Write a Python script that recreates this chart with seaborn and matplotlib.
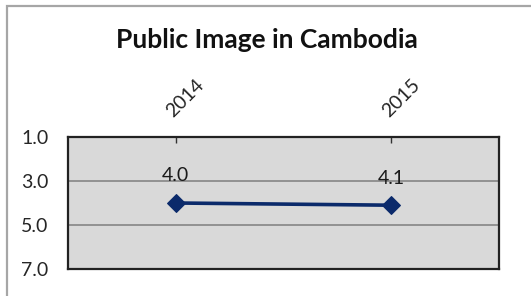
import matplotlib
matplotlib.use("Agg")
import matplotlib.pyplot as plt
import seaborn as sns
import pandas as pd
from matplotlib.patches import Rectangle

# Chart data
years = ["2014", "2015"]
scores = [4.0, 4.1]
y_ticks = [1.0, 3.0, 5.0, 7.0]

df = pd.DataFrame({"year": years, "score": scores})

sns.set_style("white")
plt.rcParams["font.family"] = ["Lato", "DejaVu Sans"]

fig = plt.figure(figsize=(5.31, 2.96), dpi=100)
ax = fig.add_axes([68 / 531, 1 - 269 / 296, 431 / 531, 132 / 296])
ax.set_facecolor("#d9d9d9")

# Outer chart frame (grey border, runs off the right and bottom edges)
fig.patches.append(Rectangle((6.5 / 531, -0.1), 1.2, 1 - 5.5 / 296 + 0.1,
                             transform=fig.transFigure, fill=False,
                             edgecolor="#a6a6a6", linewidth=1.6))

# Line with diamond markers
sns.lineplot(data=df, x="year", y="score", ax=ax, color="#0b2a6b",
             linewidth=2.6, marker="D", markersize=9, markeredgecolor="#0b2a6b",
             zorder=3, sort=False)

# Value labels
for i, (yr, v) in enumerate(zip(years, scores)):
    ax.annotate(f"{v:.1f}", (i, v), xytext=(0, 15.5), textcoords="offset points",
                ha="center", va="baseline", fontsize=14, color="#1a1a1a")

ax.set_xlim(-0.5, 1.5)
ax.set_ylim(7, 1)
ax.set_yticks(y_ticks)
ax.set_yticklabels([f"{t:.1f}" for t in y_ticks], fontsize=14)
ax.yaxis.grid(True, color="#8c8c8c", linewidth=1.3)
ax.set_axisbelow(True)

# Category labels on top, rotated
ax.xaxis.tick_top()
ax.set_xticks(range(len(years)))
ax.set_xticklabels(years, rotation=45, ha="left", va="bottom",
                   rotation_mode="anchor", fontsize=14)
ax.tick_params(axis="x", direction="in", length=4, width=1, color="#333333", pad=12)
ax.tick_params(axis="y", direction="out", length=5, width=1, color="#333333", pad=9)

for s in ax.spines.values():
    s.set_color("#222222")
    s.set_linewidth(1.6)

ax.set_xlabel("")
ax.set_ylabel("")

fig.text(267 / 531, 1 - 40 / 296, "Public Image in Cambodia", ha="center",
         va="center", fontsize=19, fontweight="bold", color="#111111")

fig.savefig("out.png", dpi=100)
